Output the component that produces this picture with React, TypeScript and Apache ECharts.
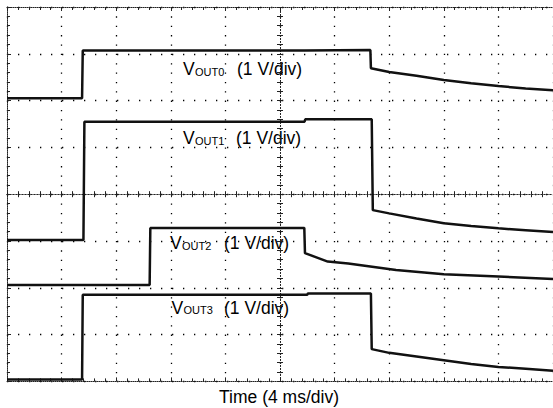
import React, { useEffect, useRef } from "react";
import * as echarts from "echarts";

// Time axis in ms (4 ms/div, 10 divisions), vertical axis in divisions (1 V/div, 8 divisions)
const timeMin = -20;
const timeMax = 20;
const timeStep = 4;
const divMin = -4;
const divMax = 4;

// Traces: [time ms, position in divisions]
const vout0: [number, number][] = [
  [-20, 2.05], [-14.5, 2.05], [-14.45, 3.07], [1.8, 3.07], [6.62, 3.08],
  [6.66, 2.69], [8.0, 2.61], [10.0, 2.53], [12.0, 2.44], [14.0, 2.37], [16.0, 2.31], [18.0, 2.26], [20, 2.22],
];
const vout1: [number, number][] = [
  [-20, -0.98], [-14.4, -0.98], [-14.33, 1.55], [1.8, 1.55], [1.85, 1.6], [6.72, 1.6],
  [6.8, -0.34], [8.0, -0.41], [10.0, -0.52], [12.0, -0.62], [14.0, -0.68], [16.0, -0.73], [18.0, -0.77], [20, -0.81],
];
const vout2: [number, number][] = [
  [-20, -1.94], [-9.55, -1.94], [-9.5, -0.72], [1.78, -0.72],
  [1.83, -1.26], [3.5, -1.44], [5.0, -1.48], [8.5, -1.62], [12.0, -1.71], [16.0, -1.76], [20, -1.81],
];
const vout3: [number, number][] = [
  [-20, -3.96], [-14.5, -3.96], [-14.45, -2.15], [2.0, -2.15], [2.05, -2.12], [6.66, -2.12],
  [6.72, -3.31], [8.0, -3.39], [10.0, -3.47], [12.0, -3.55], [14.0, -3.63], [16.0, -3.69], [18.0, -3.73], [20, -3.77],
];
const traces = [vout0, vout1, vout2, vout3];

const subscripts = ["OUT0", "OUT1", "OUT2", "OUT3"];
const scaleText = "(1 V/div)";
const xTitle = "Time (4 ms/div)";

// label layout (pixels)
const labelLayout = [
  { vx: 183, px: 237, y: 69 },
  { vx: 183, px: 236, y: 138 },
  { vx: 170, px: 224, y: 243 },
  { vx: 171.5, px: 224, y: 307.5 },
];

const FONT = "'Liberation Sans', Arial, sans-serif";
const GRID_COLOR = "#222";

export default function App() {
  const ref = useRef<HTMLDivElement>(null);
  useEffect(() => {
    document.body.style.margin = "0";
    if (!ref.current) return;
    const chart = echarts.init(ref.current, undefined, { renderer: "svg" });

    const baseX = {
      type: "value" as const,
      min: timeMin,
      max: timeMax,
      interval: timeStep,
      axisLabel: { show: false },
      splitLine: { show: false },
    };
    const baseY = {
      type: "value" as const,
      min: divMin,
      max: divMax,
      interval: 1,
      axisLabel: { show: false },
      splitLine: { show: false },
    };
    const borderLine = { show: true, lineStyle: { color: GRID_COLOR, width: 1, type: [1, 1] as number[] } };
    const centerLine = { show: true, lineStyle: { color: GRID_COLOR, width: 1, type: [1, 2] as number[] } };
    const tickStyle = { color: GRID_COLOR, width: 1 };

    const xAxes = [
      {
        ...baseX,
        position: "bottom",
        axisLine: { ...borderLine, onZero: false },
        axisTick: { show: true, inside: true, length: 4, lineStyle: tickStyle },
        minorTick: { show: true, splitNumber: 5, length: 3, lineStyle: tickStyle },
        splitLine: { show: true, lineStyle: { color: "#000", width: 1.3, type: [1.3, 8.06] } },
      },
      {
        ...baseX,
        position: "top",
        axisLine: { ...borderLine, onZero: false },
        axisTick: { show: true, inside: true, length: 4, lineStyle: tickStyle },
        minorTick: { show: true, splitNumber: 5, length: 3, lineStyle: tickStyle },
      },
      {
        ...baseX,
        position: "bottom",
        axisLine: { ...centerLine, onZero: true },
        axisTick: { show: true, inside: false, length: 3, lineStyle: tickStyle },
        minorTick: { show: true, splitNumber: 5, length: 3, lineStyle: tickStyle },
      },
      {
        ...baseX,
        position: "bottom",
        axisLine: { ...centerLine, onZero: true },
        axisTick: { show: true, inside: true, length: 3, lineStyle: tickStyle },
        minorTick: { show: true, splitNumber: 5, length: 3, lineStyle: tickStyle },
      },
    ];
    const yAxes = [
      {
        ...baseY,
        position: "left",
        axisLine: { ...borderLine, onZero: false },
        axisTick: { show: true, inside: true, length: 4, lineStyle: tickStyle },
        minorTick: { show: true, splitNumber: 5, length: 3, lineStyle: tickStyle },
        splitLine: { show: true, lineStyle: { color: "#000", width: 1.3, type: [1.3, 9.7] } },
      },
      {
        ...baseY,
        position: "left",
        axisLine: { ...centerLine, onZero: true },
        axisTick: { show: true, inside: false, length: 3, lineStyle: tickStyle },
        minorTick: { show: true, splitNumber: 5, length: 3, lineStyle: tickStyle },
      },
      {
        ...baseY,
        position: "left",
        axisLine: { ...centerLine, onZero: true },
        axisTick: { show: true, inside: true, length: 3, lineStyle: tickStyle },
        minorTick: { show: true, splitNumber: 5, length: 3, lineStyle: tickStyle },
      },
    ];

    const graphics: any[] = [];
    labelLayout.forEach((l, i) => {
      graphics.push({
        type: "text", x: l.vx, y: l.y,
        style: { text: "V", font: `17.5px ${FONT}`, fill: "#000", verticalAlign: "middle", align: "left" },
      });
      graphics.push({
        type: "text", x: l.vx + 12, y: l.y + 2.5,
        style: { text: subscripts[i], font: `11px ${FONT}`, fill: "#000", verticalAlign: "middle", align: "left" },
      });
      graphics.push({
        type: "text", x: l.px, y: l.y,
        style: { text: scaleText, font: `17.5px ${FONT}`, fill: "#000", verticalAlign: "middle", align: "left" },
      });
    });
    graphics.push({
      type: "text", x: 279, y: 397,
      style: { text: xTitle, font: `17.5px ${FONT}`, fill: "#000", verticalAlign: "middle", align: "center" },
    });

    chart.setOption({
      animation: false,
      backgroundColor: "#fff",
      grid: { left: 7, top: 7, width: 550, height: 374.4, containLabel: false },
      xAxis: xAxes,
      yAxis: yAxes,
      series: traces.map((d) => ({
        type: "line",
        xAxisIndex: 0,
        yAxisIndex: 0,
        data: d,
        showSymbol: false,
        symbol: "none",
        lineStyle: { color: "#111", width: 2.5 },
        z: 5,
      })),
      graphic: graphics,
    });
    return () => chart.dispose();
  }, []);
  return <div ref={ref} style={{ width: 553, height: 408 }} />;
}
